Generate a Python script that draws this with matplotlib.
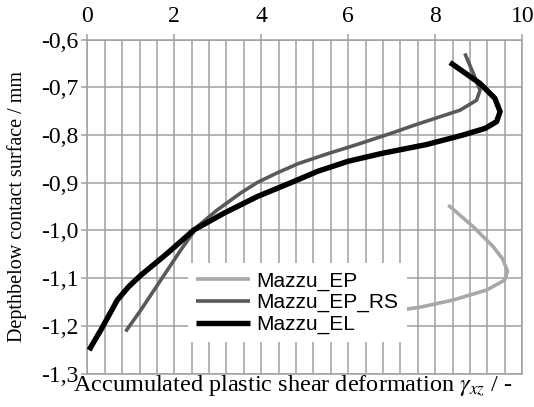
import numpy as np
import matplotlib
matplotlib.use("Agg")
import matplotlib.pyplot as plt
from matplotlib.ticker import FuncFormatter, MultipleLocator

# ---- data (x = accumulated shear, y = depth in mm) ----
ep_x = [8.30, 8.87, 9.33, 9.55, 9.66, 9.60, 9.18, 8.41, 7.65, 7.19, 6.50, 6.00]
ep_y = [-0.947, -0.992, -1.034, -1.060, -1.085, -1.104, -1.125, -1.146, -1.161, -1.167,
        -1.178, -1.186]

rs_x = [8.68, 8.87, 9.03, 8.95, 8.57, 8.00, 7.50, 7.00, 6.20, 5.50, 4.85, 4.35, 3.90,
        3.52, 2.99, 2.53, 2.15, 1.69, 1.23, 0.88]
rs_y = [-0.629, -0.670, -0.706, -0.727, -0.748, -0.765, -0.780, -0.796, -0.820, -0.840,
        -0.860, -0.880, -0.900, -0.922, -0.957, -0.992, -1.041, -1.104, -1.167, -1.212]

el_x = [8.34, 9.03, 9.37, 9.49, 9.41, 9.15, 8.64, 7.80, 6.80, 6.00, 5.30, 4.68, 3.91,
        3.14, 2.45, 1.84, 1.23, 0.95, 0.69, 0.31, 0.04]
el_y = [-0.648, -0.692, -0.723, -0.751, -0.772, -0.786, -0.800, -0.820, -0.838, -0.855,
        -0.876, -0.900, -0.929, -0.964, -0.999, -1.048, -1.094, -1.118, -1.146, -1.209,
        -1.251]

SERIES = [("Mazzu_EP", ep_x, ep_y, "#a8a8a8", 2.6),
          ("Mazzu_EP_RS", rs_x, rs_y, "#595959", 2.6),
          ("Mazzu_EL", el_x, el_y, "#000000", 3.9)]

GRID = "#a0a0a0"
SERIF = "Liberation Serif"
plt.rcParams.update({"font.family": SERIF, "mathtext.fontset": "stix"})

fig = plt.figure(figsize=(5.34, 4.07), dpi=100)
ax = fig.add_axes([0.1635, 0.0823, 0.978 - 0.1635, 0.9027 - 0.0823])

for name, xs, ys, col, lw in SERIES:
    ax.plot(xs, ys, color=col, lw=lw, label=name, solid_joinstyle="round",
            solid_capstyle="butt", zorder=3)

ax.set_xlim(0, 10)
ax.set_ylim(-1.3, -0.6)
ax.set_xticks(np.arange(0, 10.01, 2))
ax.xaxis.set_minor_locator(MultipleLocator(0.4))
ax.set_yticks(np.arange(-1.3, -0.59, 0.1))
ax.xaxis.set_major_formatter(FuncFormatter(lambda v, p: f"{v:.0f}"))
ax.yaxis.set_major_formatter(FuncFormatter(lambda v, p: f"{v:.1f}".replace(".", ",")))
ax.xaxis.tick_top()
ax.tick_params(axis="x", which="major", length=4, width=1.1, color=GRID, pad=5,
               labelsize=17)
ax.tick_params(axis="x", which="minor", length=0)
ax.tick_params(axis="y", length=4.3, width=1.1, color=GRID, pad=2, labelsize=17)
for lbl in ax.get_xticklabels() + ax.get_yticklabels():
    lbl.set_family(SERIF)
ax.grid(True, axis="x", which="both", color=GRID, lw=1.1)
ax.grid(True, axis="y", which="major", color=GRID, lw=1.1)
ax.set_axisbelow(True)
for sp in ax.spines.values():
    sp.set_color(GRID)
    sp.set_linewidth(1.1)

leg = ax.legend(loc="upper left", bbox_to_anchor=(0.2315, 0.331), frameon=True,
                fancybox=False, framealpha=1, edgecolor="none", facecolor="white",
                prop={"family": "Liberation Sans", "size": 15}, handlelength=2.6,
                handletextpad=0.3, labelspacing=0.12, borderpad=0.4, borderaxespad=0)
leg.set_zorder(5)

fig.text(0.032, (0.0823 + 0.9027) / 2, "Depthbelow contact surface / mm", rotation=90,
         rotation_mode="anchor", ha="center", va="center", fontsize=14.5)
fig.text(0.549, 0.052, r"Accumulated plastic shear deformation $\gamma_{xz}$ / -",
         ha="center", va="center", fontsize=17.5)

fig.savefig("out.png", dpi=100, facecolor="white")
